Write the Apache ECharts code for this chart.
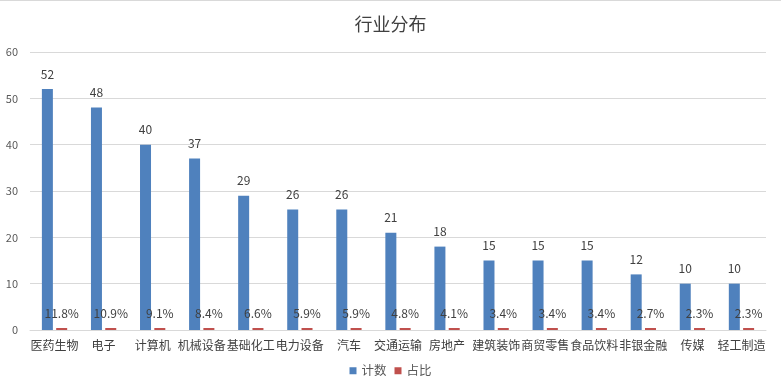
<!DOCTYPE html>
<html><head><meta charset="utf-8">
<script src="https://cdn.jsdelivr.net/npm/echarts@6/dist/echarts.min.js"></script>
<style>html,body{margin:0;padding:0;background:#fff}#c{width:781px;height:391px}</style>
</head><body><div id="c"></div>
<script>
const categories = ['医药生物','电子','计算机','机械设备','基础化工','电力设备','汽车','交通运输','房地产','建筑装饰','商贸零售','食品饮料','非银金融','传媒','轻工制造'];
const counts = [52,48,40,37,29,26,26,21,18,15,15,15,12,10,10];
const shares = [0.118,0.109,0.091,0.084,0.066,0.059,0.059,0.048,0.041,0.034,0.034,0.034,0.027,0.023,0.023];
const yTicks = [0,10,20,30,40,50,60];

const font = 'Microsoft YaHei, "Noto Sans CJK SC", sans-serif';
const chart = echarts.init(document.getElementById('c'));
chart.setOption({
  animation: false,
  textStyle: {fontFamily: font},
  title: {text: '行业分布', left: 'center', top: 10,
    textStyle: {fontSize: 18, fontWeight: 'normal', color: '#404040', fontFamily: font}},
  legend: {bottom: 9, left: 'center', itemWidth: 7, itemHeight: 7, itemGap: 8,
    icon: 'rect', textStyle: {fontSize: 12.5, color: '#595959'},
    data: ['计数','占比']},
  grid: {left: 30, right: 15, top: 52, bottom: 61, containLabel: false},
  graphic: [{type: 'rect', shape: {x: 0, y: 0, width: 781, height: 1}, style: {fill: '#d9d9d9'}}],
  xAxis: {type: 'category', data: categories,
    axisLine: {lineStyle: {color: '#d9d9d9'}}, axisTick: {show: false},
    axisLabel: {fontSize: 12, color: '#404040', interval: 0, margin: 9}},
  yAxis: {type: 'value', min: yTicks[0], max: yTicks[yTicks.length-1], interval: 10,
    axisLine: {show: false}, axisTick: {show: false},
    splitLine: {lineStyle: {color: '#d9d9d9'}},
    axisLabel: {fontSize: 11, color: '#595959', margin: 12}},
  series: [
    {name: '计数', type: 'bar', data: counts, barWidth: 11, barGap: '30%',
      itemStyle: {color: '#4f81bd'},
      label: {show: true, position: 'top', distance: 9, fontSize: 12, color: '#404040'}},
    {name: '占比', type: 'bar', data: shares, barWidth: 11, barMinHeight: 2,
      itemStyle: {color: '#c0504d'},
      label: {show: true, position: 'top', distance: 9, fontSize: 12, color: '#404040',
        formatter: p => (p.value*100).toFixed(1) + '%'}}
  ]
});
</script></body></html>
